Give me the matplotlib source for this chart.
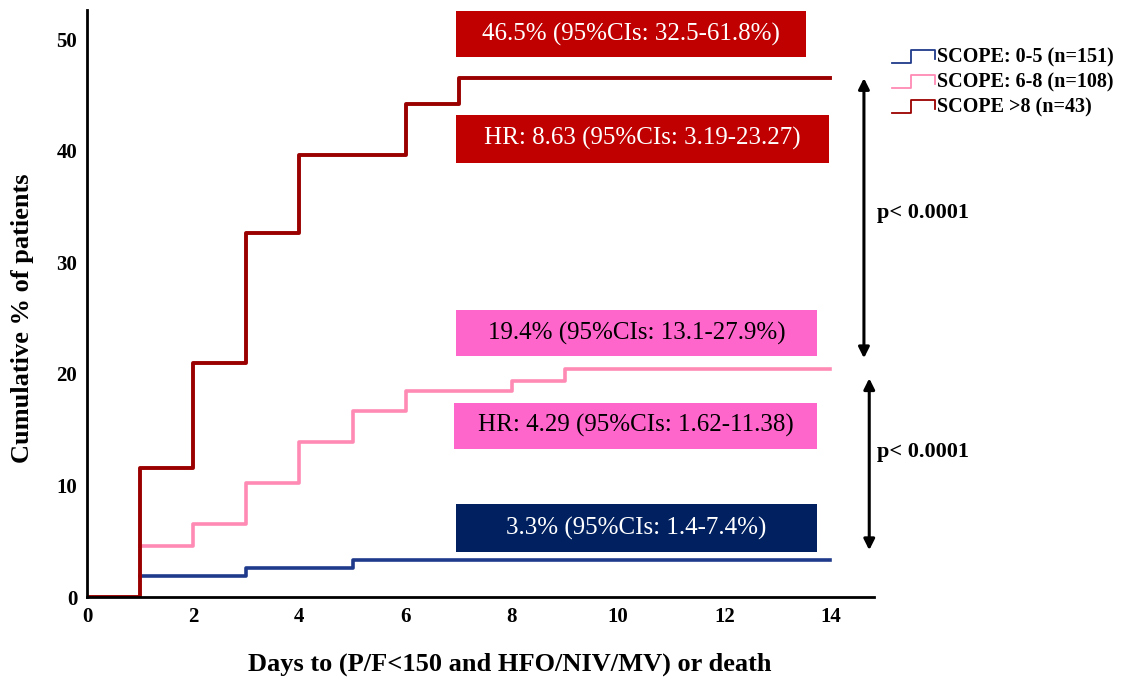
import matplotlib
matplotlib.use('Agg')
import matplotlib.pyplot as plt
from matplotlib.patches import Rectangle
from matplotlib.lines import Line2D
from matplotlib.legend_handler import HandlerBase

plt.rcParams['font.family'] = ['Liberation Serif', 'DejaVu Serif']

# --------------------------------------------------------------------------
# Data (cumulative % of patients, step after each day)
# --------------------------------------------------------------------------
days_low = [1, 3, 5, 14]
pct_low = [1.9, 2.6, 3.3, 3.3]

days_mid = [1, 2, 3, 4, 5, 6, 8, 9, 14]
pct_mid = [4.6, 6.5, 10.2, 13.9, 16.7, 18.5, 19.4, 20.4, 20.4]

days_high = [0, 1, 2, 3, 4, 6, 7, 14]
pct_high = [0, 11.6, 21.0, 32.6, 39.6, 44.2, 46.5, 46.5]

labels = ['SCOPE: 0-5 (n=151)', 'SCOPE: 6-8 (n=108)', 'SCOPE >8 (n=43)']
box_texts = ['46.5% (95%CIs: 32.5-61.8%)', 'HR: 8.63 (95%CIs: 3.19-23.27)',
             '19.4% (95%CIs: 13.1-27.9%)', 'HR: 4.29 (95%CIs: 1.62-11.38)',
             '3.3% (95%CIs: 1.4-7.4%)']
p_texts = ['p< 0.0001', 'p< 0.0001']

BLUE, PINK, RED = '#1f3a8a', '#ff8ab4', '#9b0000'
BOX_RED, BOX_PINK, BOX_NAVY = '#c00000', '#ff66cc', '#002060'

fig = plt.figure(figsize=(11.24, 6.82), dpi=100)
ax = fig.add_axes([0.0774, 0.1246, 0.7002, 0.8607])

ax.step(days_low, pct_low, where='post', color=BLUE, lw=2.6)
ax.step(days_mid, pct_mid, where='post', color=PINK, lw=2.6)
ax.step(days_high, pct_high, where='post', color=RED, lw=2.8)

ax.set_xlim(0, 14.82)
ax.set_ylim(0, 52.6)
ax.set_xticks(range(0, 15, 2))
ax.set_yticks(range(0, 51, 10))
ax.tick_params(length=0, labelsize=15, pad=7)
for lab in ax.get_xticklabels() + ax.get_yticklabels():
    lab.set_fontweight('bold')
for s in ['top', 'right']:
    ax.spines[s].set_visible(False)
for s in ['left', 'bottom']:
    ax.spines[s].set_linewidth(2)

ax.set_xlabel('Days to (P/F<150 and HFO/NIV/MV) or death', fontsize=19,
              fontweight='bold')
ax.xaxis.set_label_coords(0.5375, -0.095)
ax.set_ylabel('Cumulative % of patients', fontsize=19, fontweight='bold')
ax.yaxis.set_label_coords(-0.067, 0.475)

# annotation boxes: (x0, x1, y0, y1, face, text colour)
boxes = [(6.95, 13.53, 48.4, 52.47, BOX_RED, 'white'),
         (6.95, 13.97, 38.9, 43.2, BOX_RED, 'white'),
         (6.95, 13.75, 21.6, 25.7, BOX_PINK, 'black'),
         (6.91, 13.75, 13.3, 17.4, BOX_PINK, 'black'),
         (6.95, 13.75, 4.0, 8.3, BOX_NAVY, 'white')]
for (x0, x1, y0, y1, fc, tc), txt in zip(boxes, box_texts):
    ax.add_patch(Rectangle((x0, y0), x1 - x0, y1 - y0, facecolor=fc,
                           edgecolor='none', zorder=3))
    ax.text((x0 + x1) / 2, (y0 + y1) / 2, txt, color=tc, fontsize=18,
            ha='center', va='center', zorder=4)

# p-value arrows
ax.annotate('', xy=(14.63, 46.5), xytext=(14.63, 21.4),
            arrowprops=dict(arrowstyle='<|-|>', color='black', lw=2.2,
                            mutation_scale=16, shrinkA=0, shrinkB=0),
            annotation_clip=False)
ax.annotate('', xy=(14.73, 19.6), xytext=(14.73, 4.2),
            arrowprops=dict(arrowstyle='<|-|>', color='black', lw=2.2,
                            mutation_scale=16, shrinkA=0, shrinkB=0),
            annotation_clip=False)
ax.text(14.88, 34.4, p_texts[0], fontsize=16, fontweight='bold', va='center',
        clip_on=False)
ax.text(14.88, 13.0, p_texts[1], fontsize=16, fontweight='bold', va='center',
        clip_on=False)


class StepHandler(HandlerBase):
    def create_artists(self, legend, orig, xd, yd, w, h, fontsize, trans):
        xs = [xd, xd + 0.45 * w, xd + 0.45 * w, xd + w, xd + w]
        ys = [yd + 0.0 * h, yd + 0.0 * h, yd + 0.9 * h, yd + 0.9 * h, yd + 0.3 * h]
        ln = Line2D(xs, ys, color=orig.get_color(), lw=1.3, transform=trans)
        return [ln]


handles = [Line2D([], [], color=c) for c in [BLUE, PINK, RED]]
fig.legend(handles, labels, handler_map={Line2D: StepHandler()},
           loc='upper left', bbox_to_anchor=(0.794, 0.93), frameon=False,
           prop={'size': 14.5, 'weight': 'bold'}, handlelength=2.1,
           handletextpad=0.12, labelspacing=0.25, borderpad=0,
           borderaxespad=0)

fig.savefig('out.png', dpi=100)
